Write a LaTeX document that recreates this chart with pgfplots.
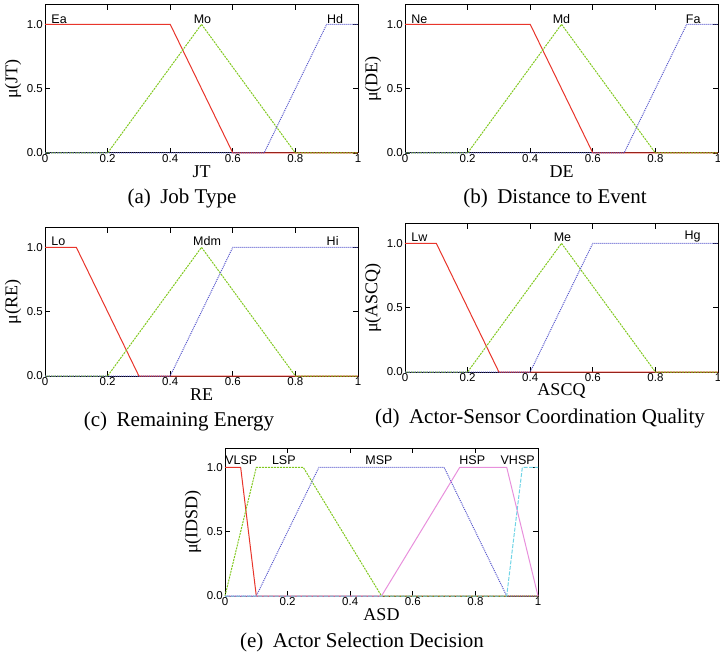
\documentclass[border=0pt]{standalone}
\usepackage{fontspec}
\setmainfont{Liberation Serif}
\setsansfont{Liberation Sans}
\usepackage{pgfplots}
\pgfplotsset{compat=1.18}

\definecolor{mfRed}{HTML}{E8352B}
\definecolor{mfGreen}{HTML}{80C81E}
\definecolor{mfBlue}{HTML}{5656CC}
\definecolor{mfPink}{HTML}{E890DC}
\definecolor{mfCyan}{HTML}{70D4E6}

\pgfplotsset{
  mf/.style={
    scale only axis, width=313pt, height=148pt,
    xmin=0, xmax=1, ymin=0, ymax=1.15,
    xtick={0,0.2,0.4,0.6,0.8,1}, xticklabels={0,0.2,0.4,0.6,0.8,1},
    ytick={0,0.5,1}, yticklabels={0.0,0.5,1.0},
    tick align=inside, major tick length=5pt,
    xtick pos=both, ytick pos=both,
    xticklabel pos=lower, yticklabel pos=left,
    tick label style={font=\sffamily\fontsize{11.5}{12}\selectfont},
    xticklabel style={inner sep=1.5pt},
    yticklabel style={inner sep=2pt},
    label style={font=\fontsize{18}{20}\selectfont},
    x label style={at={(axis description cs:0.5,0)}, anchor=center, yshift=-19pt},
    y label style={at={(axis description cs:0,0.5)}, anchor=center, yshift=32pt},
    axis line style={line width=1pt},
    every tick/.style={black, line width=0.7pt},
    clip=false,
  },
  l1/.style={mfRed, line width=1pt},
  l2/.style={mfGreen, line width=1pt, dash pattern=on 2pt off 1pt},
  l3/.style={mfBlue, line width=1pt, dash pattern=on 1pt off 1pt},
  l4/.style={mfPink, line width=1pt},
  l5/.style={mfCyan, line width=1pt, dash pattern=on 4pt off 1.5pt},
}
\tikzset{
  tl/.style={font=\sffamily\fontsize{12.5}{13}\selectfont, inner sep=0pt},
  subcap/.style={font=\fontsize{21}{24}\selectfont},
}

\begin{document}
\begin{tikzpicture}
\path[use as bounding box] (0,0) rectangle (720pt,-652pt);

% (a) job type
\begin{axis}[mf, at={(45pt,-153pt)}, anchor=south west, xlabel={JT}, ylabel={μ(JT)}]
\addplot[l1] coordinates {(0,1) (0.4,1) (0.6,0) (1,0)};
\addplot[l2] coordinates {(0,0) (0.2,0) (0.5,1) (0.8,0) (1,0)};
\addplot[l3] coordinates {(0,0) (0.7,0) (0.9,1) (1,1)};
\node[tl, anchor=west] at (axis cs:0.02,1.04) {Ea};
\node[tl] at (axis cs:0.503,1.04) {Mo};
\node[tl] at (axis cs:0.927,1.04) {Hd};
\end{axis}

% (b) distance to event
\begin{axis}[mf, at={(405pt,-153pt)}, anchor=south west, xlabel={DE}, ylabel={μ(DE)}]
\addplot[l1] coordinates {(0,1) (0.4,1) (0.6,0) (1,0)};
\addplot[l2] coordinates {(0,0) (0.2,0) (0.5,1) (0.8,0) (1,0)};
\addplot[l3] coordinates {(0,0) (0.7,0) (0.9,1) (1,1)};
\node[tl, anchor=west] at (axis cs:0.02,1.04) {Ne};
\node[tl] at (axis cs:0.5,1.04) {Md};
\node[tl] at (axis cs:0.921,1.04) {Fa};
\end{axis}

% (c) remaining energy
\begin{axis}[mf, at={(45pt,-376pt)}, anchor=south west, xlabel={RE}, ylabel={μ(RE)}]
\addplot[l1] coordinates {(0,1) (0.1,1) (0.3,0) (1,0)};
\addplot[l2] coordinates {(0,0) (0.2,0) (0.5,1) (0.8,0) (1,0)};
\addplot[l3] coordinates {(0,0) (0.4,0) (0.6,1) (1,1)};
\node[tl, anchor=west] at (axis cs:0.02,1.05) {Lo};
\node[tl] at (axis cs:0.518,1.05) {Mdm};
\node[tl] at (axis cs:0.919,1.05) {Hi};
\end{axis}

% (d) actor-sensor coordination quality
\begin{axis}[mf, at={(405pt,-372pt)}, anchor=south west, xlabel={ASCQ}, ylabel={μ(ASCQ)}]
\addplot[l1] coordinates {(0,1) (0.1,1) (0.3,0) (1,0)};
\addplot[l2] coordinates {(0,0) (0.2,0) (0.5,1) (0.8,0) (1,0)};
\addplot[l3] coordinates {(0,0) (0.4,0) (0.6,1) (1,1)};
\node[tl, anchor=west] at (axis cs:0.02,1.05) {Lw};
\node[tl] at (axis cs:0.503,1.05) {Me};
\node[tl] at (axis cs:0.919,1.05) {Hg};
\end{axis}

% (e) actor selection decision
\begin{axis}[mf, at={(225pt,-596pt)}, anchor=south west, xlabel={ASD}, ylabel={μ(IDSD)}]
\addplot[l1] coordinates {(0,1) (0.05,1) (0.1,0) (1,0)};
\addplot[l2] coordinates {(0,0) (0.1,1) (0.25,1) (0.5,0) (1,0)};
\addplot[l3] coordinates {(0,0) (0.1,0) (0.3,1) (0.7,1) (0.9,0) (1,0)};
\addplot[l4] coordinates {(0,0) (0.5,0) (0.75,1) (0.9,1) (1,0)};
\addplot[l5] coordinates {(0,0) (0.9,0) (0.95,1) (1,1)};
\node[tl] at (axis cs:0.052,1.057) {VLSP};
\node[tl] at (axis cs:0.188,1.057) {LSP};
\node[tl] at (axis cs:0.492,1.057) {MSP};
\node[tl] at (axis cs:0.79,1.057) {HSP};
\node[tl] at (axis cs:0.935,1.057) {VHSP};
\end{axis}

% sub-captions
\node[subcap] at (182pt,-198pt) {(a)\hspace{0.45em}Job Type};
\node[subcap] at (555pt,-198pt) {(b)\hspace{0.45em}Distance to Event};
\node[subcap] at (179pt,-421pt) {(c)\hspace{0.45em}Remaining Energy};
\node[subcap] at (540pt,-418pt) {(d)\hspace{0.45em}Actor-Sensor Coordination Quality};
\node[subcap] at (362pt,-642pt) {(e)\hspace{0.45em}Actor Selection Decision};
\end{tikzpicture}
\end{document}
